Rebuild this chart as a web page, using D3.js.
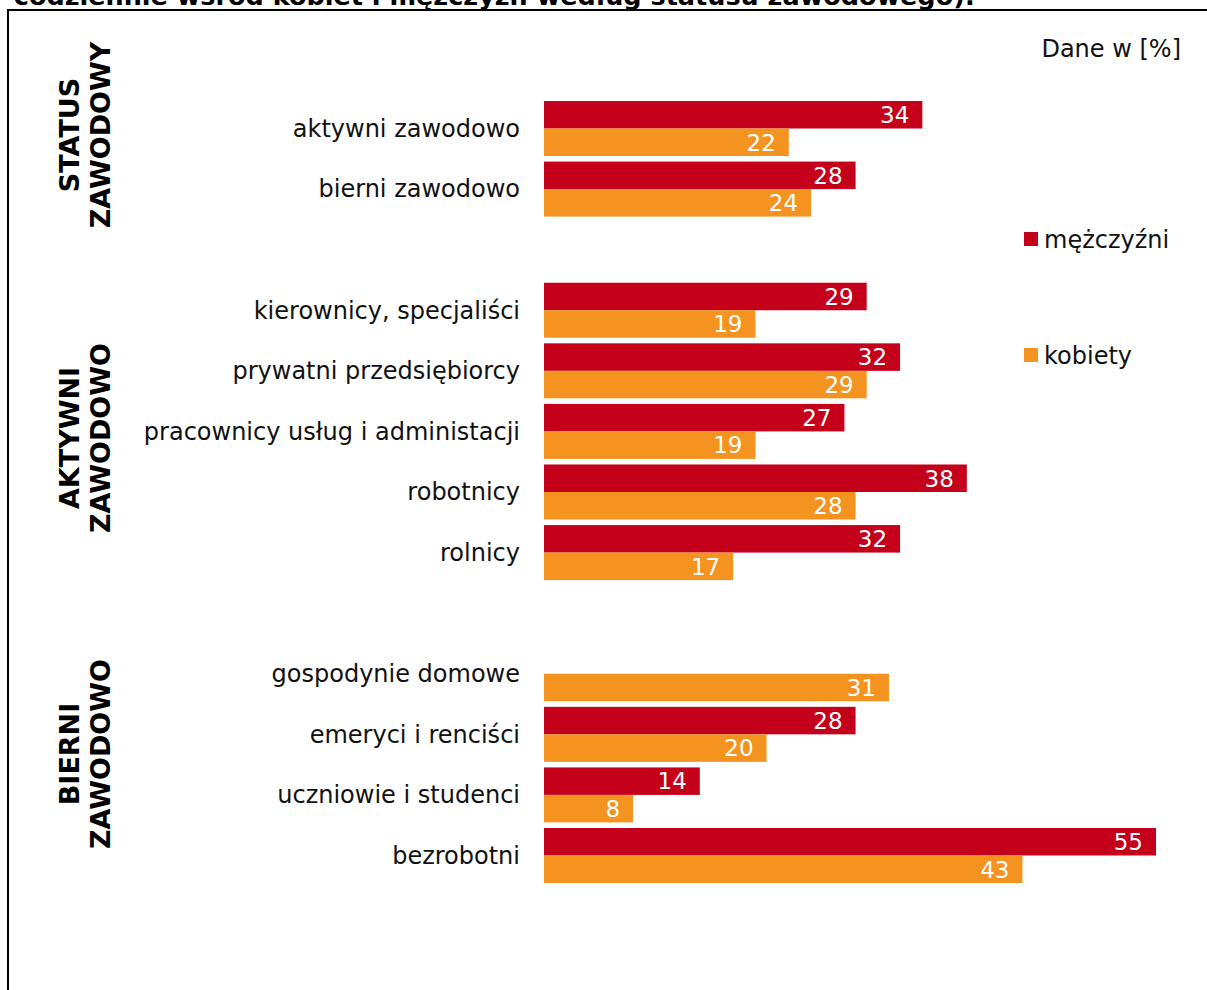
<!DOCTYPE html>
<html><head><meta charset="utf-8">
<script src="https://cdn.jsdelivr.net/npm/d3@7"></script>
<style>
html,body{margin:0;padding:0;background:#fff;overflow:hidden}
text{font-family:"DejaVu Sans",Verdana,sans-serif}
</style></head>
<body>
<script>
const categories = ["aktywni zawodowo","bierni zawodowo","_gap1",
  "kierownicy, specjaliści","prywatni przedsiębiorcy","pracownicy usług i administacji","robotnicy","rolnicy","_gap2",
  "gospodynie domowe","emeryci i renciści","uczniowie i studenci","bezrobotni"];
const men   = [34,28,null,29,32,27,38,32,null,null,28,14,55];
const women = [22,24,null,19,29,19,28,17,null,31,20,8,43];
const seriesNames = ["mężczyźni","kobiety"];
const groupLabels = [["STATUS","ZAWODOWY"],["AKTYWNI","ZAWODOWO"],["BIERNI","ZAWODOWO"]];
const titleText = "codziennie wśród kobiet i mężczyzn według statusu zawodowego):";
const unitText = "Dane w [%]";

const W = 1207, H = 990;
const colors = ["#C4001A","#F59321"];

const svg = d3.select("body").append("svg").attr("width",W).attr("height",H);

// title (cut off at top, as in the reference)
svg.append("text").attr("x",975).attr("y",5).attr("text-anchor","end")
  .attr("font-size",25.5).attr("font-weight","bold").attr("fill","#000").text(titleText);

// frame
svg.append("rect").attr("x",8).attr("y",10).attr("width",W+20).attr("height",H+20)
  .attr("fill","none").attr("stroke","#000").attr("stroke-width",2);

const y = d3.scaleBand().domain(categories).range([101,883]).paddingInner(0.092).paddingOuter(0);
const x = d3.scaleLinear().domain([0,55]).range([544,1156]);
const sub = d3.scaleBand().domain([0,1]).range([0,y.bandwidth()]);

const rows = categories.map((c,i)=>({cat:c, vals:[men[i],women[i]]}));

const g = svg.append("g");
rows.forEach(r=>{
  r.vals.forEach((v,s)=>{
    if(v==null) return;
    const y0 = y(r.cat)+sub(s);
    g.append("rect").attr("x",x(0)).attr("y",y0).attr("width",x(v)-x(0)).attr("height",sub.bandwidth())
      .attr("fill",colors[s]);
    g.append("text").attr("x",x(v)-13).attr("y",y0+sub.bandwidth()/2).attr("dy","0.36em")
      .attr("text-anchor","end").attr("font-size",23).attr("fill","#fff").text(v);
  });
});

// category labels via axis
const ax = d3.axisLeft(y).tickSize(0).tickPadding(0).tickFormat(d=>d.startsWith("_")?"":d);
const axg = svg.append("g").attr("transform","translate(520,0)").call(ax);
axg.select(".domain").remove();
axg.selectAll("text").attr("font-size",24).attr("fill","#111").attr("font-family","DejaVu Sans, Verdana, sans-serif").attr("dy","0.35em");

// group labels
const groupY = [135,438,754];
groupLabels.forEach((lines,i)=>{
  const t = svg.append("text").attr("transform",`translate(69,${groupY[i]}) rotate(-90)`)
    .attr("text-anchor","middle").attr("font-size",27).attr("font-weight","bold").attr("fill","#000");
  lines.forEach((l,j)=>{
    t.append("tspan").attr("x",0).attr("dy", j===0? "0.36em":"1.15em").text(l);
  });
});

// unit
svg.append("text").attr("x",1181).attr("y",48).attr("dy","0.36em").attr("text-anchor","end")
  .attr("font-size",24).attr("fill","#111").text(unitText);

// legend
const legY = [239,355];
seriesNames.forEach((n,i)=>{
  svg.append("rect").attr("x",1024).attr("y",legY[i]-7).attr("width",14).attr("height",14).attr("fill",colors[i]);
  svg.append("text").attr("x",1044).attr("y",legY[i]).attr("dy","0.36em").attr("font-size",24).attr("fill","#111").text(n);
});
</script>
</body></html>
